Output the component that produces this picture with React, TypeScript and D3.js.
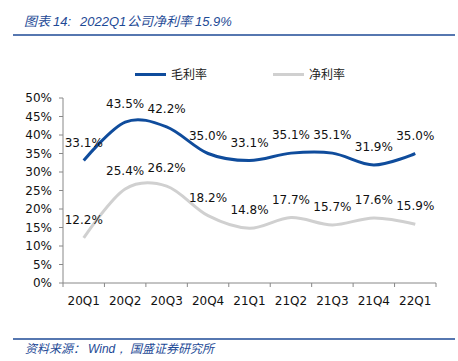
import React from "react";
import * as d3 from "d3";

const categories = ["20Q1", "20Q2", "20Q3", "20Q4", "21Q1", "21Q2", "21Q3", "21Q4", "22Q1"];
const grossMargin = [33.1, 43.5, 42.2, 35.0, 33.1, 35.1, 35.1, 31.9, 35.0];
const netMargin = [12.2, 25.4, 26.2, 18.2, 14.8, 17.7, 15.7, 17.6, 15.9];
const yTicks = [0, 5, 10, 15, 20, 25, 30, 35, 40, 45, 50];
const seriesNames = ["毛利率", "净利率"];

const W = 458, H = 361;
const BLUE = "#0F4C9C";
const GRAY = "#D0D0D0";
const TITLE_BLUE = "#1E4A96";
const NUM_FONT = "'DejaVu Sans', Verdana, sans-serif";
const ARIAL = "'Liberation Sans', Arial, sans-serif";
const CJK_FONT = "'Noto Sans CJK SC', sans-serif";

export default function App() {
  const x0 = 63, x1 = 436, yTop = 98, yBot = 283;
  const x = d3.scaleBand<string>().domain(categories).range([x0, x1]);
  const y = d3.scaleLinear().domain([0, 50]).range([yBot, yTop]);
  const cx = (c: string) => (x(c) as number) + x.bandwidth() / 2;
  const line = d3
    .line<number>()
    .x((_, i) => cx(categories[i]))
    .y((d) => y(d))
    .curve(d3.curveCatmullRom.alpha(0));

  const series = [
    { name: seriesNames[0], data: grossMargin, color: BLUE },
    { name: seriesNames[1], data: netMargin, color: GRAY },
  ];
  const boundaries = categories.map((c) => x(c) as number).concat([x1]);

  return (
    <svg width={W} height={H} style={{ position: "absolute", left: 0, top: 0, background: "#fff" }}>
      <rect x={0} y={0} width={W} height={H} fill="#fff" />
      {/* Title */}
      <g fontSize={13} fontStyle="italic" fill={TITLE_BLUE}>
        <text x={24} y={26} fontFamily={CJK_FONT}>图表</text>
        <text x={53} y={26} fontFamily={ARIAL}>14:</text>
        <text x={80} y={26} fontFamily={ARIAL}>2022Q1</text>
        <text x={127} y={26} fontFamily={CJK_FONT}>公司净利率</text>
        <text x={195} y={26} fontFamily={ARIAL}>15.9%</text>
      </g>
      <line x1={13} x2={455} y1={35} y2={35} stroke={TITLE_BLUE} strokeWidth={1.5} />

      {/* Legend */}
      {series.map((s, i) => {
        const lx = i === 0 ? 135 : 273;
        return (
          <g key={s.name}>
            <line x1={lx} x2={lx + 31} y1={74.5} y2={74.5} stroke={s.color} strokeWidth={3} />
            <text x={lx + 36} y={79} fontSize={12} fill="#222" fontFamily={CJK_FONT}>
              {s.name}
            </text>
          </g>
        );
      })}

      {/* Y axis */}
      <line x1={x0} x2={x0} y1={yTop} y2={yBot} stroke="#888" strokeWidth={1} />
      {yTicks.map((t) => (
        <g key={t}>
          <line x1={x0 - 4} x2={x0} y1={y(t)} y2={y(t)} stroke="#888" />
          <text x={52} y={y(t)} dy="0.35em" textAnchor="end" fontSize={12} fill="#111" fontFamily={NUM_FONT}>
            {t}%
          </text>
        </g>
      ))}

      {/* X axis */}
      <line x1={x0} x2={x1} y1={yBot} y2={yBot} stroke="#888" strokeWidth={1} />
      {boundaries.map((b, i) => (
        <line key={i} x1={b} x2={b} y1={yBot} y2={yBot + 4} stroke="#888" />
      ))}
      {categories.map((c) => (
        <text key={c} x={cx(c)} y={305} textAnchor="middle" fontSize={12} fill="#111" fontFamily={NUM_FONT}>
          {c}
        </text>
      ))}

      {/* Lines */}
      {series.map((s) => (
        <path key={s.name} d={line(s.data) || ""} fill="none" stroke={s.color} strokeWidth={3} />
      ))}

      {/* Labels */}
      {series.map((s) =>
        s.data.map((v, i) => (
          <text
            key={s.name + i}
            x={cx(categories[i])}
            y={y(v) - 14}
            textAnchor="middle"
            fontSize={12}
            fill="#111"
            fontFamily={NUM_FONT}
          >
            {v.toFixed(1)}%
          </text>
        ))
      )}

      {/* Footer */}
      <line x1={13} x2={455} y1={339} y2={339} stroke={TITLE_BLUE} strokeWidth={1.5} />
      <g fontSize={12} fontStyle="italic" fill={TITLE_BLUE}>
        <text x={25} y={353} fontFamily={CJK_FONT}>资料来源：</text>
        <text x={88} y={353} fontFamily={ARIAL}>Wind，</text>
        <text x={130} y={353} fontFamily={CJK_FONT}>国盛证券研究所</text>
      </g>
    </svg>
  );
}
